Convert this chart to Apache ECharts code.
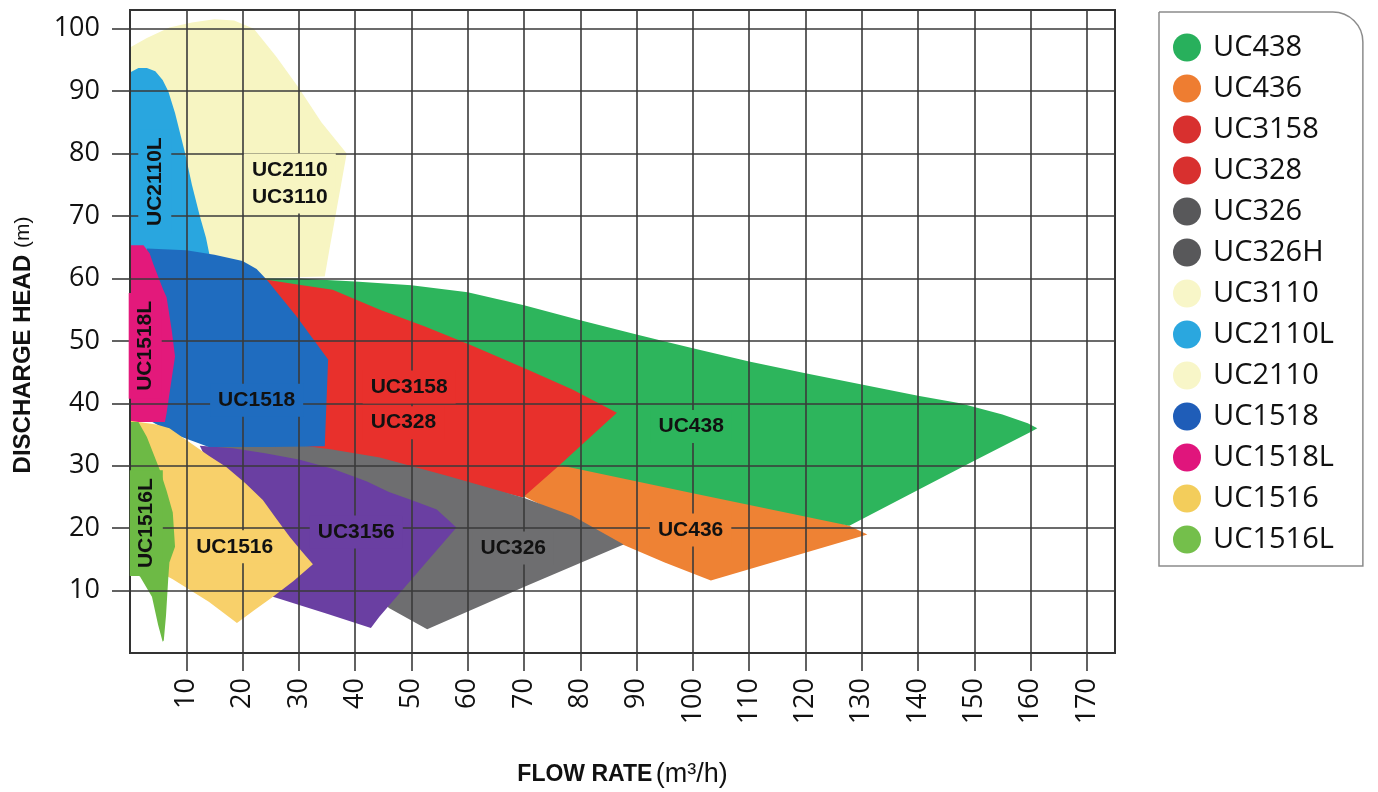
<!DOCTYPE html>
<html>
<head>
<meta charset="utf-8">
<script src="https://cdn.jsdelivr.net/npm/echarts@6/dist/echarts.min.js"></script>
<style>
html,body{margin:0;padding:0;background:#ffffff;}
#chart{width:1378px;height:792px;}
</style>
</head>
<body>
<div id="chart"></div>
<script>
// ---------- tick labels ----------
const xTicks = [10,20,30,40,50,60,70,80,90,100,110,120,130,140,150,160,170];
const yTicks = [10,20,30,40,50,60,70,80,90,100];

// ---------- legend ----------
const legendNames = ['UC438','UC436','UC3158','UC328','UC326','UC326H','UC3110','UC2110L','UC2110','UC1518','UC1518L','UC1516','UC1516L'];

// ---------- working areas: [flow m3/h, head m] outline points ----------
const uc2110 = [[0,97],[3,98.5],[7,100.2],[11,101],[15,101.5],[18.5,101.3],[22,100],[26,95.5],[30,90.5],[34,85],[38.5,80],[37.5,75],[36.5,70],[35.5,65],[34.6,60.3],[20,60],[0,60]];
const uc2110L = [[0,93],[1.5,93.7],[3,93.7],[4.5,93.2],[5.8,91.8],[6.8,90],[8,86.5],[9.8,80],[11,75],[12.4,70],[13.5,66.5],[14.3,63],[14.3,60],[0,60]];
const uc436 = [[69.5,25.3],[76.3,30.6],[100,26.3],[120,22.4],[127.8,20.4],[131,19],[103.2,11.6],[95,14.5],[87,17.6],[78,21.5]];
const uc438 = [[24,60],[30,60],[40,59.5],[50,58.9],[60,57.8],[70,55.7],[80,53.3],[90,51],[94.5,50],[100,48.8],[110,46.7],[120,44.8],[130,43],[140,41.2],[147.5,40],[155,38.2],[159.5,36.8],[161.2,36],[160,35.4],[150,30.8],[140,26.1],[127.8,20.4],[100,25.6],[76.2,30.1],[60,38],[40,47]];
const uc3158 = [[24.3,59.8],[30,59],[36,58.2],[44.4,55],[52.4,52.3],[60.3,49.4],[70.6,45.4],[78.6,42.2],[86.5,38.5],[76.2,30],[69.8,24.9],[56,28],[45,30.5],[35,32],[28,33],[28,50]];
const uc326 = [[13.6,34.2],[24.3,34],[35.9,32.6],[44.4,31.3],[56.3,28.4],[69.8,24.9],[78.6,22],[87.7,17.4],[70.6,10.8],[52.8,3.8],[46,7.2],[42,11],[20,28]];
const uc3156 = [[12.4,33.2],[18.3,32.8],[24,32],[30,31],[36,29.5],[42,27.5],[46,25.8],[50,24.5],[54.5,23],[58,20.1],[51,12.8],[44.3,5.8],[42.8,4],[35,6.3],[25.4,9]];
const uc1518 = [[3,64.8],[10,64.5],[15,63.8],[20,62.8],[22.5,61.5],[24.3,59.8],[29.6,53.9],[35.2,47],[34.9,40],[34.6,33.1],[25,33],[14,33],[8,35],[3,37.5]];
const uc1518L = [[0,65.3],[2.4,65.3],[3.5,64],[4.1,62.4],[5.9,58.2],[6.5,57],[7.4,51.8],[8,47.5],[7.1,42.1],[6.5,38.4],[6.2,37],[0,37]];
const uc1516 = [[0,37.2],[4.7,36.6],[7,36],[10,34.1],[14,31.6],[17.1,29.8],[20.5,27.2],[23.6,24.5],[26,21.5],[28.4,18.6],[30.5,16.3],[32.5,14.2],[29,11.5],[25.4,9],[22,6.8],[19,4.8],[14,8.2],[7.6,11.8],[3,14],[0,14]];
const uc1516L = [[0,37],[1.5,37],[3,34.6],[5.3,29.3],[6.5,26],[7.6,22.5],[8,17],[7,14.5],[6.8,12],[6.4,6],[6,2],[5.8,1.8],[5,4.5],[3.9,9],[1.8,12.2],[0,13.5]];

// ---------- area labels: [flow, head, text, angle] ----------
const areaLabels = [
  [28.4,75.2,'UC2110\nUC3110',0],
  [4.4,75.5,'UC2110L',90],
  [2.7,49.2,'UC1518L',90],
  [22.5,40.5,'UC1518',0],
  [49.6,42.6,'UC3158',0],
  [48.6,36.9,'UC328',0],
  [99.7,36.3,'UC438',0],
  [99.6,19.7,'UC436',0],
  [68.1,16.8,'UC326',0],
  [40.2,19.4,'UC3156',0],
  [18.6,17.0,'UC1516',0],
  [2.9,20.8,'UC1516L',90]
];

// ---------- styles ----------
const shapeColor = {
  UC2110:'#f7f5c2', UC2110L:'#29a6df', UC436:'#ee8234', UC438:'#2db55c',
  UC3158:'#e8302c', UC326:'#6e6e70', UC3156:'#6a3fa2', UC1518:'#1f6cbf',
  UC1518L:'#e3197b', UC1516:'#f8d06a', UC1516L:'#6dba45'
};
const legendColor = {
  UC438:'#28b05c', UC436:'#ee7d31', UC3158:'#d8302f', UC328:'#d8302f', UC326:'#58585a',
  UC326H:'#58585a', UC3110:'#f8f6c8', UC2110L:'#2aa7df', UC2110:'#f8f6c8', UC1518:'#1f5db8',
  UC1518L:'#e0157c', UC1516:'#f3cd5b', UC1516L:'#74bf4b'
};
const labelBg = ['#f7f5c2','#29a6df','#e3197b','#1f6cbf','#e8302c','#e8302c','#2db55c','#ee8234','#6e6e70','#6a3fa2','#f8d06a','#6dba45'];

function areaSeries(name, pts, colorKey) {
  const color = shapeColor[colorKey || name] || '#ccc';
  return {
    type: 'custom',
    name: name,
    coordinateSystem: 'cartesian2d',
    data: pts,
    encode: {x: 0, y: 1},
    silent: true,
    itemStyle: {color: color},
    z: 2,
    renderItem: function (params, api) {
      if (params.dataIndexInside !== 0) return null;
      const n = params.dataInsideLength;
      const points = [];
      for (let i = 0; i < n; i++) {
        points.push(api.coord([api.value(0, i), api.value(1, i)]));
      }
      return {type: 'polygon', shape: {points: points}, style: {fill: color}};
    }
  };
}

const series = [
  areaSeries('UC2110', uc2110),
  areaSeries('UC3110', [] , 'UC2110'),
  areaSeries('UC2110L', uc2110L),
  areaSeries('UC436', uc436),
  areaSeries('UC438', uc438),
  areaSeries('UC3158', uc3158),
  areaSeries('UC328', [], 'UC3158'),
  areaSeries('UC326', uc326),
  areaSeries('UC326H', [], 'UC326'),
  areaSeries('UC3156', uc3156),
  areaSeries('UC1518', uc1518),
  areaSeries('UC1518L', uc1518L),
  areaSeries('UC1516', uc1516),
  areaSeries('UC1516L', uc1516L),
  {
    type: 'custom',
    name: 'labels',
    coordinateSystem: 'cartesian2d',
    data: areaLabels.map(function (d) { return [d[0], d[1]]; }),
    encode: {x: 0, y: 1},
    silent: true,
    z: 6,
    renderItem: function (params, api) {
      const p = api.coord([api.value(0), api.value(1)]);
      const d = areaLabels[params.dataIndex];
      return {
        type: 'text',
        x: p[0], y: p[1],
        rotation: d[3] * Math.PI / 180,
        style: {
          text: d[2],
          fill: '#111',
          fontSize: 21,
          fontWeight: 'bold',
          fontFamily: '"Liberation Sans", Arial, sans-serif',
          align: 'center',
          verticalAlign: 'middle',
          lineHeight: 27,
          backgroundColor: labelBg[params.dataIndex],
          padding: [3, 8, 3, 8]
        }
      };
    }
  }
];

const chart = echarts.init(document.getElementById('chart'), null, {renderer: 'canvas'});
chart.setOption({
  animation: false,
  backgroundColor: '#ffffff',
  grid: {
    left: 130, right: 263, top: 10, bottom: 139,
    containLabel: false, outerBoundsMode: 'none',
    show: true, borderColor: '#333', borderWidth: 2, backgroundColor: 'transparent', z: 4
  },
  legend: {
    orient: 'vertical',
    left: 1159, top: 12,
    data: legendNames.map(function (n) { return {name: n, itemStyle: {color: legendColor[n]}}; }),
    icon: 'circle',
    itemWidth: 42, itemHeight: 28, itemGap: 12,
    padding: [21, 29, 12, 14],
    backgroundColor: '#ffffff',
    borderColor: '#8c8c8c', borderWidth: 1.5,
    borderRadius: [0, 30, 0, 0],
    selectedMode: false,
    textStyle: {fontSize: 29, color: '#111', fontFamily: '"Open Sans", sans-serif', lineHeight: 28}
  },
  xAxis: {
    type: 'value', min: 0, max: 175, interval: 10, z: 4,
    name: '{b|FLOW RATE} {n|(m³/h)}',
    nameLocation: 'middle', nameGap: 108,
    nameTextStyle: {
      rich: {
        b: {fontSize: 23, fontWeight: 'bold', color: '#111', fontFamily: '"Liberation Sans", Arial, sans-serif'},
        n: {fontSize: 27, color: '#111', fontFamily: '"Liberation Sans", Arial, sans-serif'}
      }
    },
    axisLine: {show: true, lineStyle: {color: '#333', width: 2}},
    axisTick: {show: true, customValues: xTicks, length: 18, lineStyle: {color: '#3a3a3a', width: 1.6}},
    axisLabel: {customValues: xTicks, rotate: 90, margin: 25, fontSize: 27, color: '#111', fontFamily: '"Open Sans", sans-serif'},
    splitLine: {show: true, lineStyle: {color: '#3a3a3a', width: 1.6}}
  },
  yAxis: {
    type: 'value', min: 0, max: 103, interval: 10, z: 4,
    name: '{b|DISCHARGE HEAD}  {n|(m)}',
    nameLocation: 'middle', nameGap: 95, nameRotate: 90,
    nameTextStyle: {
      rich: {
        b: {fontSize: 24, fontWeight: 'bold', color: '#111', fontFamily: '"Liberation Sans", Arial, sans-serif'},
        n: {fontSize: 21, color: '#111', fontFamily: '"Liberation Sans", Arial, sans-serif', padding: [0, 27, 0, 0]}
      }
    },
    axisLine: {show: true, lineStyle: {color: '#333', width: 2}},
    axisTick: {show: true, customValues: yTicks, length: 18, lineStyle: {color: '#3a3a3a', width: 1.6}},
    axisLabel: {customValues: yTicks, margin: 30, fontSize: 27, color: '#111', fontFamily: '"Open Sans", sans-serif'},
    splitLine: {show: true, lineStyle: {color: '#3a3a3a', width: 1.6}}
  },
  series: series
});
</script>
</body>
</html>
